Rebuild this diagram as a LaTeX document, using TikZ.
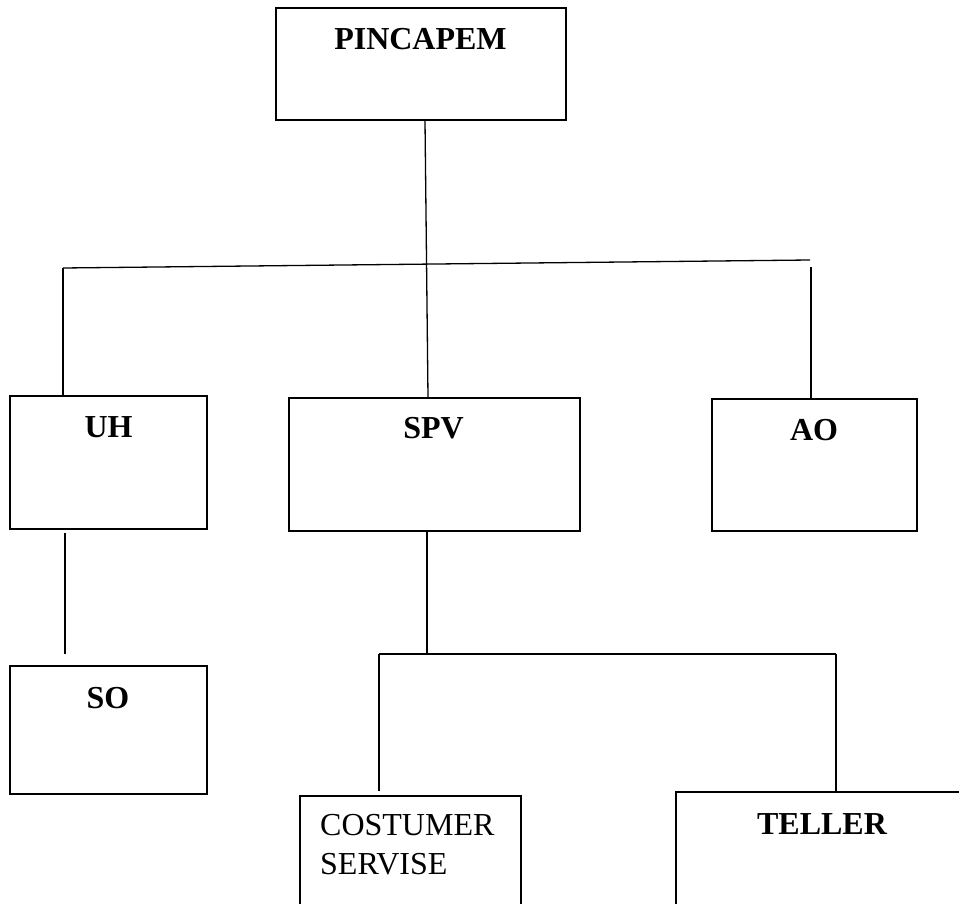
\documentclass[tikz,border=0pt]{standalone}
\usepackage{fontspec}
\setmainfont{Liberation Serif}
\begin{document}
\begin{tikzpicture}[x=1pt,y=-1pt,
  box/.style={draw, line width=1.3pt, rectangle, inner sep=0pt},
  lbl/.style={font=\fontsize{32}{36}\selectfont\bfseries, inner sep=0pt, anchor=base},
  plain/.style={font=\fontsize{32}{39}\selectfont, inner sep=0pt, anchor=base west, align=left},
  conn/.style={line width=1.3pt}]
\useasboundingbox (0,0) rectangle (959,904);
% boxes
\node[box, minimum width=290pt, minimum height=112pt] (pin) at (421,64) {};
\node[box, minimum width=197pt, minimum height=133pt] (uh) at (108.5,462.5) {};
\node[box, minimum width=291pt, minimum height=133pt] (spv) at (434.5,464.5) {};
\node[box, minimum width=205pt, minimum height=132pt] (ao) at (814.5,465) {};
\node[box, minimum width=197pt, minimum height=128pt] (so) at (108.5,730) {};
\node[box, minimum width=221pt, minimum height=109pt] (cs) at (410.5,850.5) {};
\node[box, minimum width=286pt, minimum height=113pt] (tel) at (819,848.5) {};
% labels
\node[lbl] (tpin) at (420.5,50) {PINCAPEM};
\node[lbl] (tuh) at (108.5,437) {UH};
\node[lbl] (tspv) at (433.5,438) {SPV};
\node[lbl] (tao) at (814,440) {AO};
\node[lbl] (tso) at (108,708) {SO};
\node[lbl] (ttel) at (822,834) {TELLER};
\node[plain] (tcs1) at (320,835) {COSTUMER};
\node[plain] (tcs2) at (320,874) {SERVISE};
% connectors
\coordinate (hl) at (63,268);
\coordinate (hr) at (810,260);
\coordinate (ar) at (811,267);
\coordinate (sm) at (427,654);
\coordinate (cl) at (379,654);
\coordinate (cr) at (836,654);
\draw[conn] ([xshift=4pt]pin.south) -- ([xshift=-6.5pt]spv.north);
\draw[conn] (hl) -- (hr);
\draw[conn] (hl) -- (uh.north -| hl);
\draw[conn] (ar) -- (ao.north -| ar);
\draw[conn] ([xshift=-43.5pt,yshift=-3pt]uh.south) -- ([xshift=-43.5pt,yshift=11pt]so.north);
\draw[conn] ([xshift=-7.5pt]spv.south) -- (sm);
\draw[conn] (cl) -- (cr);
\draw[conn] (cl) -- ([yshift=4pt]cs.north -| cl);
\draw[conn] (cr) -- (tel.north -| cr);
\end{tikzpicture}
\end{document}
